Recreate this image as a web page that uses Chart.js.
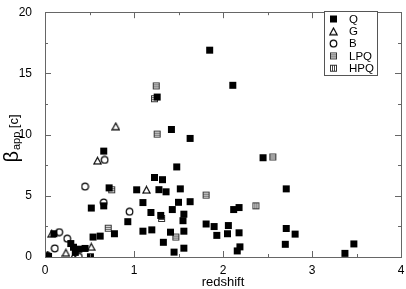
<!DOCTYPE html>
<html>
<head>
<meta charset="utf-8">
<script src="https://cdn.jsdelivr.net/npm/chart.js@4.4.1/dist/chart.umd.min.js"></script>
<style>
  html, body { margin: 0; padding: 0; background: #fff; }
</style>
</head>
<body>
<canvas id="chart" width="406" height="289"></canvas>
<script>
// Data: redshift (z) and apparent speed (beta_app, in c)
const qRedshift = [0.04, 0.10, 0.29, 0.32, 0.34, 0.38, 0.45, 0.51, 0.52, 0.54, 0.62, 0.66, 0.66, 0.72, 0.78,
  0.93, 1.03, 1.10, 1.10, 1.19, 1.20, 1.23, 1.26, 1.28, 1.30, 1.32, 1.33, 1.36, 1.41, 1.42, 1.43, 1.45,
  1.48, 1.50, 1.52, 1.55, 1.56, 1.56, 1.56, 1.63, 1.63, 1.81, 1.85, 1.90, 1.93, 2.05, 2.06, 2.11, 2.12,
  2.16, 2.18, 2.18, 2.19, 2.45, 2.70, 2.71, 2.71, 2.81, 3.37, 3.47];
const qBeta = [0.05, 1.9, 1.1, 0.8, 0.38, 0.64, 0.7, 0.02, 4.0, 1.63, 1.71, 8.65, 4.18, 5.65, 1.9,
  2.89, 5.49, 4.45, 2.11, 3.64, 2.22, 6.5, 13.07, 5.5, 3.4, 6.32, 1.2, 5.33, 2.03, 10.42, 3.88, 0.4,
  7.36, 4.47, 5.57, 2.97, 3.5, 0.72, 2.11, 9.69, 4.52, 2.7, 16.9, 2.49, 1.77, 1.9, 2.57, 14.03, 3.88,
  0.5, 4.04, 1.98, 0.83, 8.11, 1.04, 5.57, 2.33, 1.87, 0.3, 1.07];

const gRedshift = [0.03, 0.075, 0.235, 0.32, 0.52, 0.59, 0.795, 1.14];
const gBeta = [0.15, 1.9, 0.35, 0.02, 0.83, 7.87, 10.68, 5.49];

const bRedshift = [0.03, 0.11, 0.16, 0.25, 0.38, 0.45, 0.66, 0.67, 0.95];
const bBeta = [0.1, 0.7, 2.03, 1.5, 0.02, 5.75, 4.45, 7.93, 3.7];

const lpqRedshift = [0.71, 0.75, 1.23, 1.25, 1.26, 1.31, 1.47, 1.81, 2.56];
const lpqBeta = [2.35, 5.49, 12.93, 13.98, 10.04, 3.15, 1.63, 5.06, 8.17];

const hpqRedshift = [2.37];
const hpqBeta = [4.18];

const seriesNames = ['Q', 'G', 'B', 'LPQ', 'HPQ'];
const xTickValues = [0, 1, 2, 3, 4];
const yTickValues = [0, 5, 10, 15, 20];

const FONT = '"Liberation Sans", Arial, sans-serif';

// small canvases used as point symbols
function makeSymbol(kind) {
  const c = document.createElement('canvas');
  c.width = 9; c.height = 9;
  const g = c.getContext('2d');
  g.lineWidth = 1.2;
  g.strokeStyle = '#000';
  g.fillStyle = '#000';
  if (kind === 'Q') {
    g.fillRect(1, 1, 7, 7);
  } else if (kind === 'G') {
    g.beginPath();
    g.moveTo(4.5, 1.2);
    g.lineTo(8.1, 7.8);
    g.lineTo(0.9, 7.8);
    g.closePath();
    g.stroke();
  } else if (kind === 'B') {
    g.beginPath();
    g.arc(4.5, 4.5, 3.3, 0, Math.PI * 2);
    g.stroke();
  } else if (kind === 'LPQ') {
    g.strokeStyle = '#333';
    g.lineWidth = 1;
    g.strokeRect(1.5, 1.5, 6, 6);
    g.fillStyle = '#444';
    g.fillRect(2, 3, 5, 1);
    g.fillRect(2, 5, 5, 1);
  } else if (kind === 'HPQ') {
    g.strokeStyle = '#333';
    g.lineWidth = 1;
    g.strokeRect(1.5, 1.5, 6, 6);
    g.fillStyle = '#444';
    g.fillRect(3, 2, 1, 5);
    g.fillRect(5, 2, 1, 5);
  }
  return c;
}

const symbols = {};
seriesNames.forEach(n => { symbols[n] = makeSymbol(n); });

function toPoints(xs, ys) {
  return xs.map((x, i) => ({ x: x, y: ys[i] }));
}

const seriesData = {
  Q: toPoints(qRedshift, qBeta),
  G: toPoints(gRedshift, gBeta),
  B: toPoints(bRedshift, bBeta),
  LPQ: toPoints(lpqRedshift, lpqBeta),
  HPQ: toPoints(hpqRedshift, hpqBeta)
};

// frame, inward ticks, titles and legend
const decorations = {
  id: 'decorations',
  afterDraw(chart) {
    const ctx = chart.ctx;
    const a = chart.chartArea;
    const xs = chart.scales.x, ys = chart.scales.y;
    ctx.save();

    ctx.strokeStyle = '#666';
    ctx.lineWidth = 1;
    ctx.strokeRect(Math.round(a.left) + 0.5, Math.round(a.top) + 0.5,
      Math.round(a.right - a.left), Math.round(a.bottom - a.top));

    ctx.beginPath();
    for (let v = 0; v <= 4.001; v += 0.5) {
      const px = Math.round(xs.getPixelForValue(v)) + 0.5;
      const len = Math.abs(v - Math.round(v)) < 0.01 ? 6 : 3;
      ctx.moveTo(px, a.bottom); ctx.lineTo(px, a.bottom - len);
      ctx.moveTo(px, a.top); ctx.lineTo(px, a.top + len);
    }
    for (let v = 0; v <= 20.001; v += 2.5) {
      const py = Math.round(ys.getPixelForValue(v)) + 0.5;
      const len = Math.abs(v / 5 - Math.round(v / 5)) < 0.01 ? 6 : 3;
      ctx.moveTo(a.left, py); ctx.lineTo(a.left + len, py);
      ctx.moveTo(a.right, py); ctx.lineTo(a.right - len, py);
    }
    ctx.stroke();

    // x title
    ctx.fillStyle = '#000';
    ctx.font = '13px ' + FONT;
    ctx.textAlign = 'center';
    ctx.textBaseline = 'alphabetic';
    ctx.fillText('redshift', (a.left + a.right) / 2, 285.5);

    // y title: beta with "app" subscript, then [c]
    ctx.save();
    ctx.translate(18, 139);
    ctx.rotate(-Math.PI / 2);
    ctx.textAlign = 'left';
    const bigFont = '20px ' + FONT, subFont = '11px ' + FONT, unitFont = '13px ' + FONT;
    ctx.font = bigFont; const w1 = ctx.measureText('\u03b2').width;
    ctx.font = subFont; const w2 = ctx.measureText('app').width;
    ctx.font = unitFont; const w3 = ctx.measureText(' [c]').width;
    let x0 = -(w1 + w2 + w3) / 2;
    ctx.font = bigFont; ctx.fillText('\u03b2', x0, 0); x0 += w1 + 1;
    ctx.font = subFont; ctx.fillText('app', x0, 1.5); x0 += w2;
    ctx.font = unitFont; ctx.fillText(' [c]', x0, 0);
    ctx.restore();

    // legend
    ctx.fillStyle = '#fff';
    ctx.fillRect(324.5, 11.5, 53, 64);
    ctx.strokeStyle = '#555';
    ctx.strokeRect(324.5, 11.5, 53, 64);
    ctx.font = '11.5px ' + FONT;
    ctx.textAlign = 'left';
    ctx.textBaseline = 'middle';
    ctx.fillStyle = '#000';
    seriesNames.forEach((n, i) => {
      const cy = 19 + i * 12.3;
      ctx.drawImage(symbols[n], 333.5 - 4.5, cy - 4.5);
      ctx.fillText(n, 349, cy + 0.5);
    });

    ctx.restore();
  }
};

const tickFont = { family: FONT, size: 12 };

new Chart(document.getElementById('chart'), {
  type: 'scatter',
  data: {
    datasets: seriesNames.map(n => ({
      label: n,
      data: seriesData[n],
      pointStyle: symbols[n],
      pointRadius: 4,
      pointHoverRadius: 4
    }))
  },
  options: {
    responsive: false,
    animation: false,
    devicePixelRatio: 1,
    layout: { padding: { top: 8, right: 4, left: 0, bottom: 0 } },
    plugins: { legend: { display: false }, tooltip: { enabled: false } },
    scales: {
      x: {
        type: 'linear', min: 0, max: 4,
        grid: { display: false }, border: { display: false },
        afterBuildTicks: s => { s.ticks = xTickValues.map(v => ({ value: v })); },
        ticks: { color: '#000', font: tickFont, padding: -2, maxRotation: 0 },
        afterFit: s => { s.height = 32; }
      },
      y: {
        type: 'linear', min: 0, max: 20,
        grid: { display: false }, border: { display: false },
        afterBuildTicks: s => { s.ticks = yTickValues.map(v => ({ value: v })); },
        ticks: { color: '#000', font: tickFont, padding: 5 },
        afterFit: s => { s.width = 45; }
      }
    }
  },
  plugins: [decorations]
});
</script>
</body>
</html>
